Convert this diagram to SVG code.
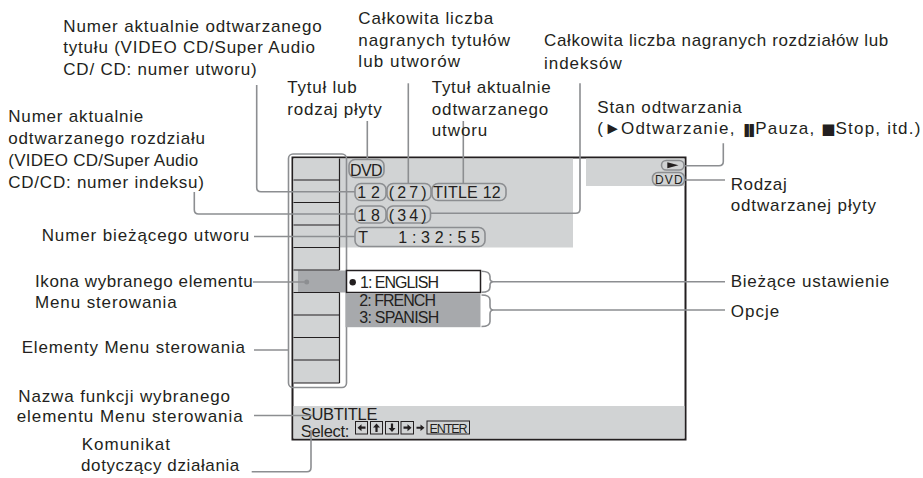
<svg xmlns="http://www.w3.org/2000/svg" width="923" height="478" viewBox="0 0 923 478">
<style>
.lbl{font-family:"Liberation Sans",Arial,sans-serif;font-size:17px;fill:#231f20}
.scr{font-family:"Liberation Sans",Arial,sans-serif;font-size:16px;fill:#231f20}
.sym{font-family:"DejaVu Sans",sans-serif}
.con{fill:none;stroke:#8c8e91;stroke-width:1.6}
.pill{fill:none;stroke:#8c8e91;stroke-width:1.6}
.lg{fill:#d1d3d4}
.dg{fill:#a7a9ac}
.blk{fill:none;stroke:#231f20}
.btn{fill:none;stroke:#231f20;stroke-width:1}
.ico{fill:#231f20}
</style>
<rect width="923" height="478" fill="#ffffff"/>

<g id="screen">
  <rect x="292.5" y="157.5" width="393" height="282" fill="#ffffff" stroke="#231f20" stroke-width="2"/>
  <rect class="lg" x="293.5" y="158.5" width="279.5" height="89"/>
  <rect class="lg" x="586" y="158.5" width="98.5" height="27.5"/>
  <rect class="lg" x="293.5" y="158.5" width="46" height="224.5"/>
  <rect class="lg" x="293.5" y="406" width="391" height="32.5"/>
  <rect class="dg" x="298" y="270.5" width="49" height="22"/>
  <g class="blk" stroke-width="1.2">
    <path d="M293.5,180 H339.5 M293.5,202.5 H339.5 M293.5,225 H339.5 M293.5,247.5 H339.5 M293.5,270 H339.5 M293.5,292.5 H339.5 M293.5,315 H339.5 M293.5,337.5 H339.5 M293.5,360 H339.5 M293.5,383 H339.5"/>
    <path d="M339.5,158.5 V270 M339.5,292.5 V383"/>
  </g>
  <circle cx="306.7" cy="282" r="2.5" fill="#8c8e91"/>
  <rect x="288.5" y="154" width="58" height="233.5" rx="4.5" class="pill"/>
</g>

<g id="info-pills">
  <rect class="pill" x="349" y="159.5" width="35" height="18" rx="6"/>
  <text class="scr" x="350" y="175.7" textLength="32.5">DVD</text>
  <rect class="pill" x="355" y="183.5" width="31" height="17" rx="6"/>
  <text class="scr" x="357.3" y="197.7" textLength="22.7">1 2</text>
  <rect class="pill" x="387" y="183.5" width="44" height="17" rx="6"/>
  <text class="scr" x="388.7" y="197.7" textLength="38">( 2 7 )</text>
  <rect class="pill" x="432" y="183.5" width="74" height="17" rx="6"/>
  <text class="scr" x="433.3" y="197.7" textLength="67.4">TITLE 12</text>
  <rect class="pill" x="355" y="206" width="31" height="17" rx="6"/>
  <text class="scr" x="357.3" y="220.5" textLength="22.7">1 8</text>
  <rect class="pill" x="387" y="206" width="43.5" height="17" rx="6"/>
  <text class="scr" x="388.7" y="220.5" textLength="38">( 3 4 )</text>
  <rect class="pill" x="355" y="227.5" width="130" height="19" rx="6"/>
  <text class="scr" x="358.3" y="243.3">T</text>
  <text class="scr" x="398.3" y="243.3" textLength="81.7">1 : 3 2 : 5 5</text>
</g>

<g id="status-pills">
  <rect class="pill" x="661.5" y="160.5" width="22.5" height="9.5" rx="4.7"/>
  <polygon class="ico" points="667.3,162.3 667.3,168.3 678.5,165.3"/>
  <rect class="pill" x="652.5" y="172.5" width="32" height="13" rx="5.5"/>
  <text class="scr" x="655" y="184.3" style="font-size:12px" textLength="27.7">DVD</text>
</g>

<g id="options">
  <rect x="346.5" y="270.5" width="134" height="22" fill="#ffffff" stroke="#231f20" stroke-width="1.5"/>
  <circle cx="352.7" cy="282.3" r="3.2" class="ico"/>
  <text class="scr" x="360" y="287.5" textLength="79">1: ENGLISH</text>
  <rect class="dg" x="345.5" y="293.2" width="135" height="34"/>
  <text class="scr" x="359.3" y="305.7" textLength="76.7">2: FRENCH</text>
  <text class="scr" x="359.3" y="323.3" textLength="80">3: SPANISH</text>
</g>

<g id="status-bar">
  <text class="scr" x="300.7" y="420.3" style="font-size:16.5px" textLength="76.7">SUBTITLE</text>
  <text class="scr" x="300.7" y="436.7" style="font-size:16.5px" textLength="48.7">Select:</text>
  <rect class="btn" x="355.5" y="421.5" width="12" height="12.5"/>
  <polygon class="ico" points="357.5,427.7 361.5,424.2 361.5,426.6 365.5,426.6 365.5,428.8 361.5,428.8 361.5,431.2"/>
  <rect class="btn" x="370.5" y="421.5" width="12" height="12.5"/>
  <polygon class="ico" points="376.5,423.5 380,427.5 377.6,427.5 377.6,432 375.4,432 375.4,427.5 373,427.5"/>
  <rect class="btn" x="385.5" y="421.5" width="13" height="12.5"/>
  <polygon class="ico" points="392,432 388.5,428 390.9,428 390.9,423.5 393.1,423.5 393.1,428 395.5,428"/>
  <rect class="btn" x="401" y="421.5" width="12.5" height="12.5"/>
  <polygon class="ico" points="411.5,427.7 407.5,424.2 407.5,426.6 403.5,426.6 403.5,428.8 407.5,428.8 407.5,431.2"/>
  <polygon class="ico" points="424.5,427.7 420.5,424.5 420.5,426.7 416.5,426.7 416.5,428.7 420.5,428.7 420.5,430.9"/>
  <rect class="btn" x="427" y="421" width="42.5" height="13"/>
  <text class="scr" x="429.5" y="432.7" style="font-size:12.5px" textLength="38">ENTER</text>
</g>

<g id="connectors">
  <path class="con" d="M256.7,85 V187.5 Q256.7,191.7 261,191.7 H355"/>
  <path class="con" d="M194.3,192 V209.8 Q194.3,214 198.5,214 H355"/>
  <path class="con" d="M254,236.5 H355"/>
  <path class="con" d="M253,282 H304.5"/>
  <path class="con" d="M254,350 H288.5"/>
  <path class="con" d="M254,415.5 H313"/>
  <path class="con" d="M251.7,471.7 H307 Q311,471.7 311,467.5 V430"/>
  <path class="con" d="M367.3,121 V159.5"/>
  <path class="con" d="M408.3,83.3 V183.5"/>
  <path class="con" d="M463.3,121 V183.5"/>
  <path class="con" d="M580,83.3 V209 Q580,213.3 575.7,213.3 H430.5"/>
  <path class="con" d="M723.3,143.3 V161.5 Q723.3,165.7 719,165.7 H684"/>
  <path class="con" d="M684.5,180 H725"/>
  <path class="con" d="M481.5,271.3 Q490,271.3 490,276.5 V278.5 Q490,281.7 493.5,281.7 Q490,281.7 490,285 V287 Q490,292.3 481.5,292.3 M493.5,281.7 H725"/>
  <path class="con" d="M481.5,295 Q490,295 490,300 V306 Q490,310 493.5,310 Q490,310 490,314 V321.5 Q490,326.5 481.5,326.5 M493.5,310 H725"/>
</g>

<g id="label-title-number">
  <text class="lbl" x="63.3" y="31.7" textLength="258.4">Numer aktualnie odtwarzanego</text>
  <text class="lbl" x="63.3" y="53" textLength="251.7">tytułu (VIDEO CD/Super Audio</text>
  <text class="lbl" x="63.3" y="74.5" textLength="193.4">CD/ CD: numer utworu)</text>
</g>
<g id="label-disc-title">
  <text class="lbl" x="287.3" y="93.3" textLength="69.4">Tytuł lub</text>
  <text class="lbl" x="287.3" y="114.5" textLength="94.4">rodzaj płyty</text>
</g>
<g id="label-total-titles">
  <text class="lbl" x="358.3" y="24" textLength="135">Całkowita liczba</text>
  <text class="lbl" x="358.3" y="45.5" textLength="151.7">nagranych tytułów</text>
  <text class="lbl" x="358.3" y="66.5" textLength="101.7">lub utworów</text>
</g>
<g id="label-track-title">
  <text class="lbl" x="431.7" y="93.3" textLength="119">Tytuł aktualnie</text>
  <text class="lbl" x="431.7" y="114.5" textLength="116.6">odtwarzanego</text>
  <text class="lbl" x="431.7" y="135.5" textLength="55.6">utworu</text>
</g>
<g id="label-total-chapters">
  <text class="lbl" x="544" y="46.3" textLength="344.3">Całkowita liczba nagranych rozdziałów lub</text>
  <text class="lbl" x="544" y="68.5" textLength="77.7">indeksów</text>
</g>
<g id="label-playback-status">
  <text class="lbl" x="597.3" y="112.7" textLength="144.4">Stan odtwarzania</text>
  <text class="lbl" x="597.3" y="133.7" style="letter-spacing:1.2px">(<tspan style="letter-spacing:0">►</tspan>Odtwarzanie, <tspan class="sym" style="font-size:13px;letter-spacing:-6px">❚❚</tspan><tspan dx="4">Pauza, </tspan><tspan class="sym" style="font-size:15px;letter-spacing:0">■</tspan>Stop, itd.)</text>
</g>
<g id="label-disc-type">
  <text class="lbl" x="730.7" y="189.7" textLength="56">Rodzaj</text>
  <text class="lbl" x="730.7" y="210.5" textLength="145.3">odtwarzanej płyty</text>
</g>
<g id="label-chapter-number">
  <text class="lbl" x="8.3" y="122" textLength="135">Numer aktualnie</text>
  <text class="lbl" x="8.3" y="143.5" textLength="196.7">odtwarzanego rozdziału</text>
  <text class="lbl" x="8.3" y="166" textLength="190">(VIDEO CD/Super Audio</text>
  <text class="lbl" x="8.3" y="187.5" textLength="195.7">CD/CD: numer indeksu)</text>
</g>
<g id="label-current-track">
  <text class="lbl" x="41.7" y="240.7" textLength="207.6">Numer bieżącego utworu</text>
</g>
<g id="label-selected-icon">
  <text class="lbl" x="35" y="286.7" textLength="217.7">Ikona wybranego elementu</text>
  <text class="lbl" x="35" y="307.5" textLength="141.7">Menu sterowania</text>
</g>
<g id="label-menu-items">
  <text class="lbl" x="21.7" y="353.3" textLength="223.3">Elementy Menu sterowania</text>
</g>
<g id="label-function-name">
  <text class="lbl" x="18.3" y="401.7" textLength="211.7">Nazwa funkcji wybranego</text>
  <text class="lbl" x="16.7" y="421.7" textLength="226">elementu Menu sterowania</text>
</g>
<g id="label-message">
  <text class="lbl" x="81.7" y="450" textLength="88.3">Komunikat</text>
  <text class="lbl" x="81" y="470.7" textLength="158.3">dotyczący działania</text>
</g>
<g id="label-current-setting">
  <text class="lbl" x="730.7" y="287.3" textLength="158.6">Bieżące ustawienie</text>
</g>
<g id="label-options">
  <text class="lbl" x="730.7" y="317.3" textLength="48.6">Opcje</text>
</g>
</svg>
